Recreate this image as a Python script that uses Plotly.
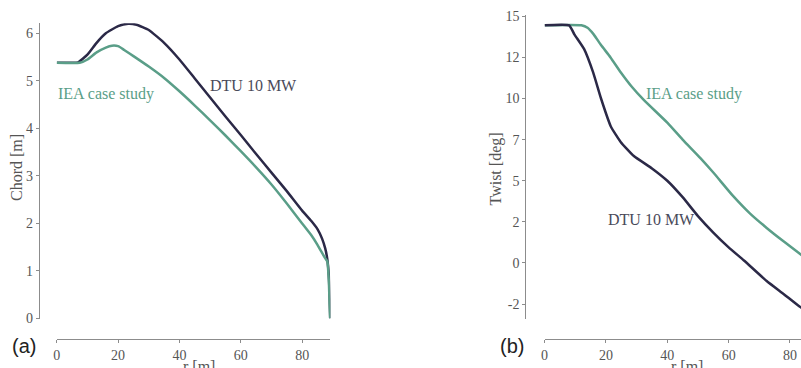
import plotly.graph_objects as go

# ---- data ----
chord_r_dtu = [0, 5, 7, 10, 13, 16, 20, 23.3, 26, 30, 35, 40, 45, 50, 55, 60, 65, 70, 75, 80, 83, 85, 86.5, 87.5, 88.2, 88.7, 89.0, 89.15]
chord_dtu = [5.38, 5.38, 5.39, 5.55, 5.8, 6.0, 6.15, 6.2, 6.18, 6.07, 5.8, 5.45, 5.05, 4.65, 4.25, 3.86, 3.46, 3.07, 2.68, 2.27, 2.05, 1.88, 1.68, 1.48, 1.25, 0.9, 0.4, 0.0]

chord_r_iea = [0, 7.5, 10, 13, 16, 18, 20, 22, 25, 30, 35, 40, 45, 50, 55, 60, 65, 70, 75, 80, 83, 85, 86.5, 87.5, 88.2, 88.7, 88.95, 89.15]
chord_iea = [5.38, 5.38, 5.45, 5.6, 5.7, 5.74, 5.73, 5.65, 5.52, 5.3, 5.06, 4.78, 4.48, 4.17, 3.85, 3.52, 3.18, 2.82, 2.42, 2.0, 1.75, 1.55, 1.38, 1.27, 1.2, 0.8, 0.3, 0.0]

twist_r_dtu = [0, 8, 9.7, 12.9, 15.8, 18.4, 21.6, 24.8, 29.1, 35, 40, 45, 50, 55, 60, 65, 72.4, 78, 83.1, 89.2]
twist_dtu = [14.45, 14.45, 13.9, 13.0, 11.6, 10.0, 8.3, 7.36, 6.5, 5.75, 5.0, 4.0, 2.85, 1.85, 0.95, 0.15, -1.1, -1.9, -2.65, -3.38]

twist_r_iea = [0, 12, 14, 16, 18.4, 21.5, 24.8, 28.5, 32.4, 40, 45, 50.8, 55, 61.5, 67, 72.4, 78, 83.1, 89.2]
twist_iea = [14.45, 14.45, 14.3, 13.9, 13.25, 12.5, 11.6, 10.7, 9.9, 8.53, 7.5, 6.38, 5.5, 4.06, 3.0, 2.13, 1.3, 0.57, -0.3]

chord_ticks = [0, 1, 2, 3, 4, 5, 6]
twist_tickvals = [15, 12.5, 10, 7.5, 5, 2.5, 0, -2.5]
twist_ticktext = ["15", "12", "10", "7", "5", "2", "0", "-2"]
r_ticks = [0, 20, 40, 60, 80]

DARK = "#2b2947"
GREEN = "#5a9e88"
AXC = "#8c8c8c"
TXT = "#555555"
SERIF = "Liberation Serif"

W, H = 801, 368
px = lambda x: x / W
py = lambda y: 1 - y / H

line_style = lambda c: dict(color=c, width=2.5, shape="spline", smoothing=0.45)

fig = go.Figure()
fig.add_trace(go.Scatter(x=chord_r_dtu, y=chord_dtu, mode="lines", line=line_style(DARK), xaxis="x", yaxis="y", showlegend=False))
fig.add_trace(go.Scatter(x=chord_r_iea, y=chord_iea, mode="lines", line=line_style(GREEN), xaxis="x", yaxis="y", showlegend=False))
fig.add_trace(go.Scatter(x=twist_r_iea, y=twist_iea, mode="lines", line=line_style(GREEN), xaxis="x2", yaxis="y2", showlegend=False))
fig.add_trace(go.Scatter(x=twist_r_dtu, y=twist_dtu, mode="lines", line=line_style(DARK), xaxis="x2", yaxis="y2", showlegend=False))

axcommon = dict(showgrid=False, zeroline=False, showline=True, linecolor=AXC, linewidth=1.2,
                ticks="outside", ticklen=3, tickcolor=AXC, tickwidth=1,
                tickfont=dict(family=SERIF, size=14, color=TXT), fixedrange=True)

fig.update_layout(
    width=W, height=H, margin=dict(l=0, r=0, t=0, b=0),
    paper_bgcolor="white", plot_bgcolor="white",
    xaxis=dict(domain=[px(53), px(328)], range=[0, 89.2], anchor="free", position=py(346),
               tickvals=r_ticks, **axcommon),
    yaxis=dict(domain=[py(325), py(19)], range=[0, 6.21], anchor="free", position=px(35),
               tickvals=chord_ticks, **axcommon),
    xaxis2=dict(domain=[px(543.3), 1.0], range=[0, (801 - 543.3) / 3.083], anchor="free", position=py(346),
                tickvals=r_ticks, **axcommon),
    yaxis2=dict(domain=[py(325), py(10)], range=[-3.38, 15.1], anchor="free", position=px(524),
                tickvals=twist_tickvals, ticktext=twist_ticktext, **axcommon),
)

ann = []
# series labels
ann.append(dict(x=px(205), y=py(83), xref="paper", yref="paper", text="DTU 10 MW", showarrow=False,
                xanchor="left", yanchor="middle", font=dict(family=SERIF, size=16, color="#4a4a5a")))
ann.append(dict(x=px(52), y=py(92), xref="paper", yref="paper", text="IEA case study", showarrow=False,
                xanchor="left", yanchor="middle", font=dict(family=SERIF, size=16, color=GREEN)))
ann.append(dict(x=px(643), y=py(92), xref="paper", yref="paper", text="IEA case study", showarrow=False,
                xanchor="left", yanchor="middle", font=dict(family=SERIF, size=16, color=GREEN)))
ann.append(dict(x=px(605), y=py(222), xref="paper", yref="paper", text="DTU 10 MW", showarrow=False,
                xanchor="left", yanchor="middle", font=dict(family=SERIF, size=16, color="#4a4a5a")))
# axis titles
ann.append(dict(x=px(12), y=py(168), xref="paper", yref="paper", text="Chord [m]", showarrow=False,
                textangle=-90, xanchor="center", yanchor="middle", font=dict(family=SERIF, size=16, color=TXT)))
ann.append(dict(x=px(494), y=py(170), xref="paper", yref="paper", text="Twist [deg]", showarrow=False,
                textangle=-90, xanchor="center", yanchor="middle", font=dict(family=SERIF, size=16, color=TXT)))
ann.append(dict(x=px(196), y=py(364), xref="paper", yref="paper", text="r [m]", showarrow=False,
                xanchor="center", yanchor="top", font=dict(family=SERIF, size=16, color=TXT)))
ann.append(dict(x=px(686), y=py(364), xref="paper", yref="paper", text="r [m]", showarrow=False,
                xanchor="center", yanchor="top", font=dict(family=SERIF, size=16, color=TXT)))
# panel labels
ann.append(dict(x=px(6), y=py(353), xref="paper", yref="paper", text="(a)", showarrow=False,
                xanchor="left", yanchor="middle", font=dict(family="Liberation Sans", size=20, color="#222222")))
ann.append(dict(x=px(496), y=py(353), xref="paper", yref="paper", text="(b)", showarrow=False,
                xanchor="left", yanchor="middle", font=dict(family="Liberation Sans", size=20, color="#222222")))
fig.update_layout(annotations=ann)

fig.write_html("out.html")
